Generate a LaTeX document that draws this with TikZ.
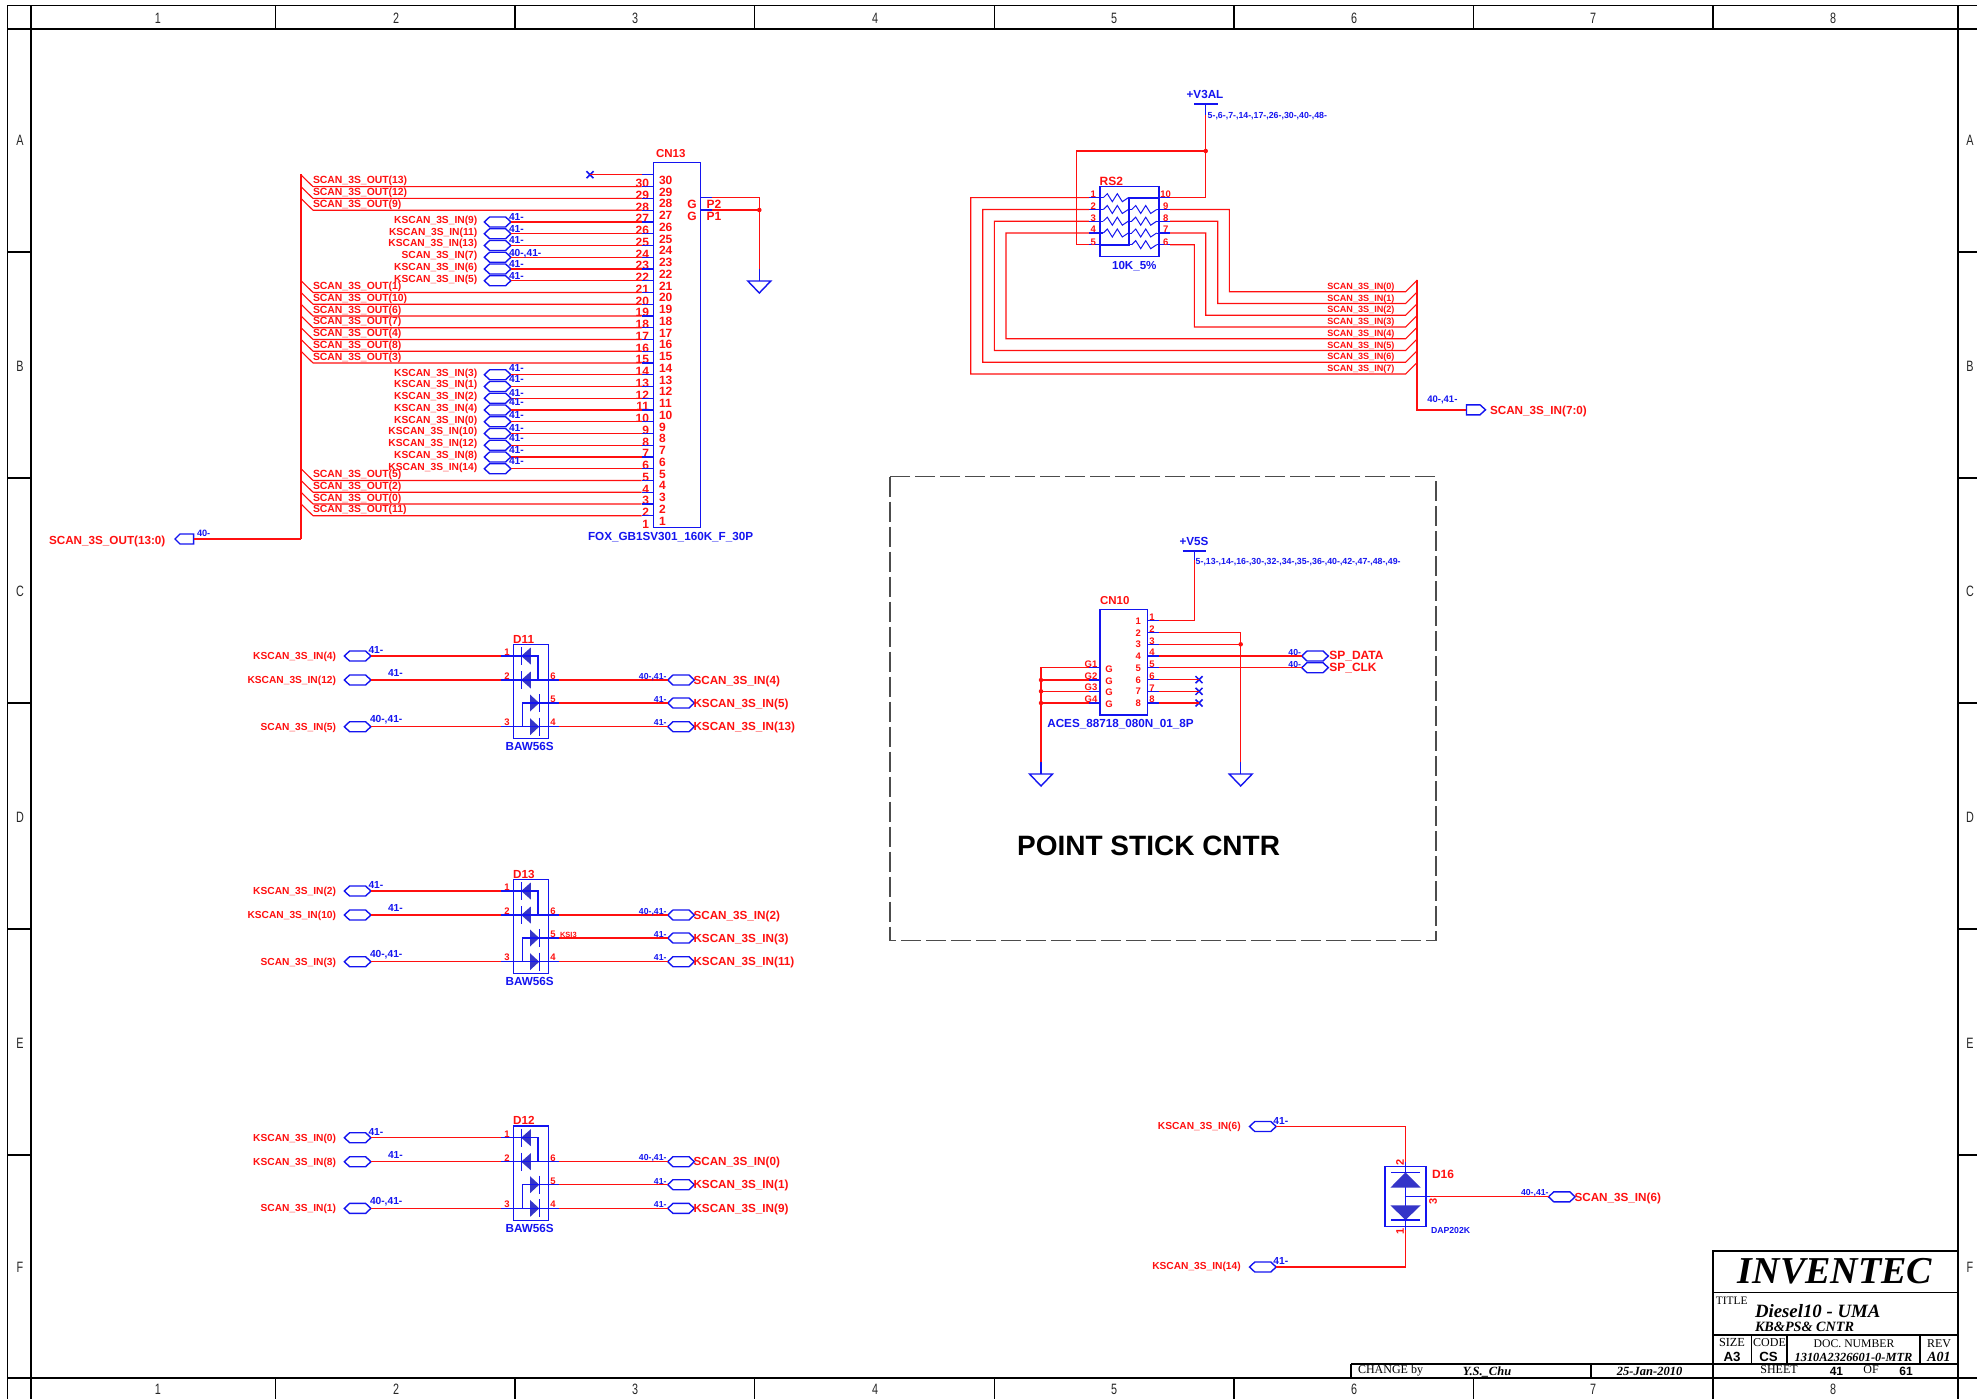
\documentclass[tikz,border=0pt]{standalone}
\usepackage{fontspec}
\setmainfont{Liberation Sans}
\newfontfamily\tms{Liberation Serif}
\definecolor{wred}{HTML}{FF1010}
\definecolor{pblue}{HTML}{1414F0}
\definecolor{dfill}{HTML}{3535C8}
\tikzset{
 txt/.style={font=\fontsize{#1}{#1}\selectfont\bfseries,text height=0.72*#1 pt,text depth=0pt,inner sep=0pt,outer sep=0pt},
 rt/.style={txt=#1,text=wred},
 bt/.style={txt=#1,text=pblue},
 sf/.style={font=\tms\fontsize{#1}{#1}\selectfont,text height=0.68*#1 pt,text depth=0pt,inner sep=0pt,outer sep=0pt,text=black},
 sbi/.style={font=\tms\bfseries\itshape\fontsize{#1}{#1}\selectfont,text height=0.68*#1 pt,text depth=0pt,inner sep=0pt,outer sep=0pt,text=black},
 kt/.style={txt=#1,text=black},
 thin frame/.style={font=\fontsize{15}{15}\selectfont,text height=11pt,text depth=0pt,inner sep=0pt,text=black!85},
 wire/.style={draw=wred,line width=1.1pt},
 bus/.style={draw=wred,line width=2pt},
 pin/.style={draw=pblue,line width=1.2pt},
 sym/.style={draw=pblue,line width=1.4pt},
 frm/.style={draw=black,line width=1.5pt},
 dot/.style={circle,fill=wred,inner sep=0pt,minimum size=4.5pt,draw=none}
}
\newcommand\hexport[3]{%
 \coordinate (#1-l) at (#2-13.3,#3);\coordinate (#1-r) at (#2+13.3,#3);
 \draw[sym] (#2-13.3,#3)--(#2-8,#3-5)--(#2+8,#3-5)--(#2+13.3,#3)--(#2+8,#3+5)--(#2-8,#3+5)--cycle;}
\newcommand\ncx[3]{%
 \coordinate (#1) at (#2,#3);
 \draw[draw=pblue,line width=1.5pt] (#2-3.5,#3-3.5)--(#2+3.5,#3+3.5) (#2-3.5,#3+3.5)--(#2+3.5,#3-3.5);}
\newcommand\gnd[3]{%
 \coordinate (#1) at (#2,#3);
 \draw[pin,line width=1.4pt] (#2,#3)--(#2,#3+12);
 \draw[sym] (#2-11.5,#3+12)--(#2+11.5,#3+12)--(#2,#3+24)--cycle;}
\newcommand\zig[2]{\draw[draw=pblue,line width=1pt] (#1,#2)--(#1+4,#2-4)--(#1+9,#2+4)--(#1+14,#2-4)--(#1+19,#2+4)--(#1+25,#2);}
\newcommand\dgroup[8]{%
\begin{scope}[shift={(0,#2)}]
 \node[rt=11.7,anchor=west] (#1ref) at (513.2,639) {#1};
 \node[bt=11.7] (#1val) at (529.7,746.5) {BAW56S};
 \draw[sym] (513.2,644.3) rectangle (548.4,738.7);
 \coordinate (#1p1) at (501,656);\coordinate (#1p2) at (501,680);\coordinate (#1p3) at (501,726.7);
 \coordinate (#1p6) at (559,680);\coordinate (#1p5) at (559,703);\coordinate (#1p4) at (559,726.7);
 \foreach \yy in {656,680}{
  \fill[dfill] (521.2,\yy)--(530.8,\yy-8.5)--(530.8,\yy+8.5)--cycle;
  \draw[pin] (521.2,\yy-9)--(521.2,\yy+9);}
 \foreach \yy in {703,726.7}{
  \fill[dfill] (539.2,\yy)--(530,\yy-8.5)--(530,\yy+8.5)--cycle;
  \draw[pin] (539.2,\yy-9)--(539.2,\yy+9);}
 \draw[pin] (#1p1)--(538,656)--(538,680);
 \draw[pin] (#1p2)--(#1p6);
 \draw[pin] (522.8,726.7)--(522.8,703)--(#1p5);
 \draw[pin] (#1p3)--(#1p4);
 \node[rt=9.5] (#1n1) at (507,652.3) {1};
 \node[rt=9.5] (#1n2) at (507,676.5) {2};
 \node[rt=9.5] (#1n3) at (507,722.5) {3};
 \node[rt=9.5] (#1n6) at (553,676) {6};
 \node[rt=9.5] (#1n5) at (553,699) {5};
 \node[rt=9.5] (#1n4) at (553,722.3) {4};
 \hexport{#1a}{357.6}{656}\hexport{#1b}{357.6}{680}\hexport{#1c}{357.6}{726.7}
 \hexport{#1d}{681}{680}\hexport{#1e}{681}{703}\hexport{#1f}{681}{726.7}
 \draw[wire] (#1a-r)--(#1p1);\draw[wire] (#1b-r)--(#1p2);\draw[wire] (#1c-r)--(#1p3);
 \draw[wire] (#1p6)--(#1d-l);\draw[wire] (#1p5)--(#1e-l);\draw[wire] (#1p4)--(#1f-l);
 \node[rt=10.2,anchor=east] (#1la) at (336,656) {#3};
 \node[rt=10.2,anchor=east] (#1lb) at (336,680) {#4};
 \node[rt=10.2,anchor=east] (#1lc) at (336,726.5) {#5};
 \node[rt=11.7,anchor=west] (#1ld) at (693.5,680) {#6};
 \node[rt=11.7,anchor=west] (#1le) at (693.5,703) {#7};
 \node[rt=11.7,anchor=west] (#1lf) at (693.5,726.7) {#8};
 \node[bt=10.2,anchor=west] (#1ba) at (368.5,650) {41-};
 \node[bt=10.2,anchor=west] (#1bb) at (388,673) {41-};
 \node[bt=10.2,anchor=west] (#1bc) at (370,719) {40-,41-};
 \node[bt=8.7,anchor=east] (#1bd) at (666.5,676) {40-,41-};
 \node[bt=8.7,anchor=east] (#1be) at (666.5,699.3) {41-};
 \node[bt=8.7,anchor=east] (#1bf) at (666.5,722.3) {41-};
\end{scope}}
\begin{document}
\begin{tikzpicture}[x=1pt,y=-1pt]
\useasboundingbox (0,0) rectangle (1977,1399);
\fill[white] (0,0) rectangle (1977,1399);
% ---- frame
\draw[frm] (7.5,1399)--(7.5,5.5)--(1958,5.5)--(1958,1399);
\draw[frm] (31,1399)--(31,5.5);
\draw[frm] (7.5,29)--(1977,29);
\draw[frm] (7.5,1378)--(1977,1378);
\draw[frm] (1958,5.5)--(1977,5.5);
\foreach \xx in {275.5,515,754.7,994.3,1233.9,1473.5,1713}{
 \draw[frm] (\xx,5.5)--(\xx,29);\draw[frm] (\xx,1378)--(\xx,1399);}
\foreach \yy in {252,478,703,929,1155}{
 \draw[frm] (7.5,\yy)--(31,\yy);\draw[frm] (1958,\yy)--(1977,\yy);}
\foreach \lb/\xx in {1/158,2/396,3/635,4/875,5/1114,6/1354,7/1593,8/1833}{
 \node[thin frame] (topn\lb) at (\xx,18) {\scalebox{.72}[1]{\lb}};
 \node[thin frame] (botn\lb) at (\xx,1389) {\scalebox{.72}[1]{\lb}};}
\foreach \lb/\yy in {A/140,B/366,C/591,D/817,E/1043,F/1267}{
 \node[thin frame] (lftn\lb) at (20,\yy) {\scalebox{.72}[1]{\lb}};
 \node[thin frame] (rgtn\lb) at (1970,\yy) {\scalebox{.72}[1]{\lb}};}
% ---- CN13
\draw[sym] (653.7,162.7) rectangle (700.3,527.5);
\node[rt=11.5,anchor=west] (cnref) at (656,153.2) {CN13};
\node[bt=11.7,anchor=west] (cnval) at (588,536.5) {FOX\_GB1SV301\_160K\_F\_30P};
\foreach \n in {1,...,30}{
 \pgfmathsetmacro\yy{186.7+(30-\n)*11.75}
 \pgfmathsetmacro\yi{180+(30-\n)*11.75}
 \pgfmathsetmacro\yl{\yy-3.5}
 \node[rt=12,anchor=east] (ol\n) at (649,\yl) {\n};
 \node[rt=12,anchor=west] (il\n) at (659,\yi) {\n};}
\coordinate (cntop) at (641.7,174.7);
\draw[pin] (cntop)--(653.7,174.7);
\ncx{cnx}{590}{174.7}
\draw[wire] (cnx)--(cntop);
\coordinate (bust) at (301,174.5);\coordinate (busb) at (301,539);
\draw[bus] (bust)--(busb);
\foreach \n/\l in {30/13,29/12,28/9,21/1,20/10,19/6,18/7,17/4,16/8,15/3,5/5,4/2,3/0,2/11}{
 \pgfmathsetmacro\yy{186.7+(30-\n)*11.75}
 \pgfmathsetmacro\ya{\yy-11.75}
 \pgfmathsetmacro\yt{\yy-6.5}
 \coordinate (pp\n) at (641.7,\yy);
 \coordinate (bb\n) at (313,\yy);
 \coordinate (bs\n) at (301,\ya);
 \draw[pin] (pp\n)--(653.7,\yy);
 \draw[wire] (bs\n)--(bb\n)--(pp\n);
 \node[rt=10.4,anchor=west] (sl\n) at (313,\yt) {SCAN\_3S\_OUT(\l)};}
\foreach \n/\l/\b/\o in {27/KSCAN\_3S\_IN(9)/41-/4.7,26/KSCAN\_3S\_IN(11)/41-/4.7,25/KSCAN\_3S\_IN(13)/41-/5.2,24/SCAN\_3S\_IN(7)/40-{,}41-/4.3,23/KSCAN\_3S\_IN(6)/41-/5,22/KSCAN\_3S\_IN(5)/41-/4.4,14/KSCAN\_3S\_IN(3)/41-/6.4,13/KSCAN\_3S\_IN(1)/41-/7.5,12/KSCAN\_3S\_IN(2)/41-/5.5,11/KSCAN\_3S\_IN(4)/41-/8,10/KSCAN\_3S\_IN(0)/41-/6.4,9/KSCAN\_3S\_IN(10)/41-/5.8,8/KSCAN\_3S\_IN(12)/41-/7.5,7/KSCAN\_3S\_IN(8)/41-/7.3,6/KSCAN\_3S\_IN(14)/41-/8}{
 \pgfmathsetmacro\yy{186.7+(30-\n)*11.75}
 \pgfmathsetmacro\yt{\yy-2.3}
 \pgfmathsetmacro\yb{\yy-\o}
 \coordinate (pp\n) at (641.7,\yy);
 \hexport{kp\n}{497.6}{\yy}
 \draw[pin] (pp\n)--(653.7,\yy);
 \draw[wire] (kp\n-r)--(pp\n);
 \node[rt=10.25,anchor=east] (kl\n) at (477.3,\yt) {\l};
 \node[bt=10.2,anchor=west] (kb\n) at (509,\yb) {\b};}
% P1 P2 ground
\node[rt=12] (g2) at (692,204.5) {G};
\node[rt=12] (g1) at (692,216) {G};
\node[rt=12,anchor=west] (pp2t) at (706.7,204.5) {P2};
\node[rt=12,anchor=west] (pp1t) at (706.7,216) {P1};
\coordinate (ps2) at (712,197.7);\coordinate (ps1) at (712,210);
\draw[pin] (700.3,197.7)--(ps2);\draw[pin] (700.3,210)--(ps1);
\gnd{gndA}{759.3}{269}
\coordinate (jA) at (759.3,210);
\draw[wire] (ps2)--(759.3,197.7)--(gndA);
\draw[wire] (ps1)--(jA);
\node[dot] (jdA) at (jA) {};
% bus port
\coordinate (ob) at (193.6,539);
\draw[sym] (175,539)--(180,534)--(193.6,534)--(193.6,544)--(180,544)--cycle;
\draw[bus] (ob)--(busb);
\node[rt=11.7,anchor=west] (oblab) at (49,540) {SCAN\_3S\_OUT(13:0)};
\node[bt=9.2,anchor=west] (obnum) at (197,532.7) {40-};
% ---- RS2
\draw[sym] (1100,186.7) rectangle (1159,256.7);
\node[rt=12,anchor=west] (rsref) at (1099.7,181) {RS2};
\node[bt=11.6] (rsval) at (1134.3,265.5) {10K\_5\%};
\foreach \i/\yy in {1/197.7,2/209.5,3/221.2,4/233}{
 \coordinate (rl\i) at (1089,\yy);
 \draw[pin] (rl\i)--(1103.3,\yy);
 \zig{1103.3}{\yy}
 \draw[draw=pblue,line width=1pt] (1128.3,\yy)--(1129.3,\yy);}
\coordinate (rl5) at (1089,244.7);
\draw[pin] (rl5)--(1100,244.7);
\draw[sym,line width=1.8pt] (1100,244.7)--(1129.3,244.7)--(1129.3,197.7)--(1159,197.7);
\foreach \i/\yy in {10/197.7,9/209.5,8/221.2,7/233,6/244.7}{
 \coordinate (rr\i) at (1170,\yy);
 \draw[pin] (1159,\yy)--(rr\i);}
\foreach \yy in {209.5,221.2,233,244.7}{
 \draw[draw=pblue,line width=1pt] (1129.3,\yy)--(1131.7,\yy);
 \zig{1131.7}{\yy}
 \draw[draw=pblue,line width=1pt] (1156.7,\yy)--(1159,\yy);}
\foreach \i/\yy in {1/194,2/206,3/217.7,4/229,5/242}{
 \node[rt=9.5] (rnl\i) at (1093.3,\yy) {\i};}
\foreach \i/\yy in {10/194,9/206,8/217.7,7/229,6/242}{
 \node[rt=9.5] (rnr\i) at (1165.7,\yy) {\i};}
% power V3AL
\coordinate (v3) at (1205.7,115);
\draw[sym,line width=2pt] (1194.3,104)--(1217.7,104);
\draw[pin,line width=1.4pt] (1205.7,104)--(v3);
\coordinate (jB) at (1205.7,151);
\draw[wire] (rr10)--(1205.7,197.7)--(v3);
\draw[wire] (jB)--(1076.7,151)--(1076.7,244.7)--(rl5);
\node[dot] (jdB) at (jB) {};
\node[bt=11.7] (v3t) at (1205,94.3) {+V3AL};
\node[bt=8.8,anchor=west] (v3n) at (1207.7,115) {5-,6-,7-,14-,17-,26-,30-,40-,48-};
% bus right
\coordinate (rbt) at (1417.3,280.3);\coordinate (rbb) at (1417.3,409.8);\coordinate (rbp) at (1466.5,409.8);
\draw[bus] (rbt)--(rbb)--(rbp);
\foreach \i/\yy/\xx/\pinn in {0/291.7/1229.3/rr9,1/303.5/1217.7/rr8,2/315.2/1205.7/rr7,3/327/1194.3/rr6,4/338.7/1006/rl4,5/350.5/994.3/rl3,6/362.2/982.7/rl2,7/374/970.7/rl1}{
 \pgfmathsetmacro\ya{\yy-11.75}
 \pgfmathsetmacro\yt{\yy-5.7}
 \coordinate (re\i) at (1405.7,\yy);
 \coordinate (rs\i) at (1417.3,\ya);
 \draw[wire] (\pinn)-|(\xx,\yy)--(re\i)--(rs\i);
 \node[rt=9.1,anchor=east] (rl\i t) at (1394.5,\yt) {SCAN\_3S\_IN(\i)};}
\draw[sym] (1466.5,404.8)--(1480,404.8)--(1485.5,409.8)--(1480,414.8)--(1466.5,414.8)--cycle;
\node[rt=11.7,anchor=west] (rblab) at (1490,410) {SCAN\_3S\_IN(7:0)};
\node[bt=9.5,anchor=west] (rbnum) at (1427.3,399) {40-,41-};
% ---- dashed box and CN10
\draw[draw=black!70,line width=1.4pt,dash pattern=on 20pt off 5pt] (890,476.6) rectangle (1436,940.6);
\node[kt=28] (pstk) at (1148.6,845.5) {POINT STICK CNTR};
\draw[sym] (1100,609.3) rectangle (1147.3,715);
\node[rt=11.5,anchor=west] (c10ref) at (1100,600) {CN10};
\node[bt=11.7,anchor=west] (c10val) at (1047.3,723.3) {ACES\_88718\_080N\_01\_8P};
\foreach \i/\yy in {1/620.7,2/632.7,3/644.3,4/656,5/667.7,6/679.7,7/691.3,8/703}{
 \pgfmathsetmacro\yl{\yy-3.5}
 \coordinate (cr\i) at (1159,\yy);
 \draw[pin] (1147.3,\yy)--(cr\i);
 \node[rt=9.5] (cro\i) at (1152,\yl) {\i};
 \node[rt=9.5] (cri\i) at (1138.3,\yy) {\i};}
\foreach \i/\yy in {1/667.7,2/680,3/691.3,4/703}{
 \pgfmathsetmacro\yl{\yy-4}
 \pgfmathsetmacro\yg{\yy+1}
 \coordinate (cl\i) at (1089.3,\yy);
 \draw[pin] (1100,\yy)--(cl\i);
 \node[rt=9.5] (clo\i) at (1091,\yl) {G\i};
 \node[rt=9.5] (cli\i) at (1109,\yg) {G};}
\coordinate (v5) at (1194.3,560);
\draw[sym,line width=2pt] (1182.7,551)--(1205.7,551);
\draw[pin,line width=1.4pt] (1194.3,551)--(v5);
\draw[wire] (cr1)--(1194.3,620.7)--(v5);
\node[bt=11.7] (v5t) at (1194,541.3) {+V5S};
\node[bt=8.8,anchor=west] (v5n) at (1195.7,561) {5-,13-,14-,16-,30-,32-,34-,35-,36-,40-,42-,47-,48-,49-};
\gnd{gndB}{1240.7}{762}
\gnd{gndC}{1041}{762}
\coordinate (jC) at (1240.7,644.3);
\draw[wire] (cr2)--(1240.7,632.7)--(gndB);
\draw[wire] (cr3)--(jC);
\node[dot] (jdC) at (jC) {};
\draw[wire] (cl1)--(1041,667.7)--(gndC);
\foreach \i/\yy in {2/680,3/691.3,4/703}{
 \coordinate (jg\i) at (1041,\yy);
 \draw[wire] (cl\i)--(jg\i);
 \node[dot] (jdg\i) at (jg\i) {};}
\hexport{spd}{1315}{656}\hexport{spc}{1315}{667.7}
\draw[wire] (cr4)--(spd-l);\draw[wire] (cr5)--(spc-l);
\node[rt=12,anchor=west] (spdt) at (1329.3,655.5) {SP\_DATA};
\node[rt=12,anchor=west] (spct) at (1329.3,667.5) {SP\_CLK};
\node[bt=8.7,anchor=east] (spdn) at (1301,652.3) {40-};
\node[bt=8.7,anchor=east] (spcn) at (1301,664) {40-};
\foreach \i/\yy in {6/679.7,7/691.3,8/703}{
 \ncx{cx\i}{1199}{\yy}
 \draw[wire] (cr\i)--(cx\i);}
% ---- diode groups
\dgroup{D11}{0}{KSCAN\_3S\_IN(4)}{KSCAN\_3S\_IN(12)}{SCAN\_3S\_IN(5)}{SCAN\_3S\_IN(4)}{KSCAN\_3S\_IN(5)}{KSCAN\_3S\_IN(13)}
\dgroup{D13}{235}{KSCAN\_3S\_IN(2)}{KSCAN\_3S\_IN(10)}{SCAN\_3S\_IN(3)}{SCAN\_3S\_IN(2)}{KSCAN\_3S\_IN(3)}{KSCAN\_3S\_IN(11)}
\dgroup{D12}{481.7}{KSCAN\_3S\_IN(0)}{KSCAN\_3S\_IN(8)}{SCAN\_3S\_IN(1)}{SCAN\_3S\_IN(0)}{KSCAN\_3S\_IN(1)}{KSCAN\_3S\_IN(9)}
\node[rt=7.5,anchor=west] (ksi3) at (560,934.7) {KSI3};
% ---- D16
\draw[sym] (1385,1166.7) rectangle (1426,1226.7);
\coordinate (d2) at (1405.5,1161.7);\coordinate (d1) at (1405.5,1230);\coordinate (d3) at (1430.3,1196.3);
\draw[pin] (d2)--(d1);
\draw[pin] (1405.5,1196.3)--(d3);
\fill[dfill] (1405.5,1172.3)--(1420.7,1187.7)--(1390.3,1187.7)--cycle;
\fill[dfill] (1405.5,1220)--(1420.7,1205.3)--(1390.3,1205.3)--cycle;
\draw[pin] (1391,1172.3)--(1420,1172.3);
\draw[pin] (1391,1220)--(1420,1220);
\hexport{d16a}{1262.8}{1126.5}\hexport{d16b}{1262.8}{1267}\hexport{d16c}{1561.8}{1196.8}
\draw[wire] (d16a-r)--(1405.5,1126.5)--(d2);
\draw[wire] (d16b-r)--(1405.5,1267)--(d1);
\draw[wire] (d3)--(1430.3,1196.8)--(d16c-l);
\node[rt=11,rotate=90] (d16n2) at (1400,1162.3) {2};
\node[rt=11,rotate=90] (d16n1) at (1400,1231) {1};
\node[rt=11,rotate=90] (d16n3) at (1432.8,1201.7) {3};
\node[rt=12,anchor=west] (d16r) at (1432,1174) {D16};
\node[bt=8.7,anchor=west] (d16v) at (1431,1230.7) {DAP202K};
\node[rt=10.2,anchor=east] (d16la) at (1240.7,1125.5) {KSCAN\_3S\_IN(6)};
\node[rt=10.2,anchor=east] (d16lb) at (1240.7,1265.5) {KSCAN\_3S\_IN(14)};
\node[rt=11.7,anchor=west] (d16lc) at (1574.5,1197) {SCAN\_3S\_IN(6)};
\node[bt=10.2,anchor=west] (d16na) at (1273.4,1120.5) {41-};
\node[bt=10.2,anchor=west] (d16nb) at (1273.4,1260.5) {41-};
\node[bt=8.7,anchor=east] (d16nc) at (1548.6,1192.5) {40-,41-};
% ---- title block
\draw[frm] (1713,1378)--(1713,1251)--(1958,1251);
\draw[frm] (1713,1292.7)--(1958,1292.7);
\draw[frm] (1713,1335)--(1958,1335);
\draw[frm] (1351,1364)--(1958,1364);
\draw[frm] (1751.5,1335)--(1751.5,1364);
\draw[frm] (1787,1335)--(1787,1364);
\draw[frm] (1920,1335)--(1920,1364);
\draw[frm] (1351,1364)--(1351,1378);
\draw[frm] (1591,1364)--(1591,1378);
\node[sbi=38] (inv) at (1835,1271) {INVENTEC};
\node[sf=11.4,anchor=west] (ttl) at (1715.8,1301) {TITLE};
\node[sbi=18.8,anchor=west] (tt1) at (1755,1311) {Diesel10 - UMA};
\node[sbi=14.2,anchor=west] (tt2) at (1755,1327) {KB\&PS\& CNTR};
\node[sf=12.3] (szt) at (1732,1342.3) {SIZE};
\node[kt=13.3] (szv) at (1732,1357) {A3};
\node[sf=12] (cdt) at (1769.5,1342.3) {CODE};
\node[kt=13.3] (cdv) at (1768.5,1357) {CS};
\node[sf=11.7] (dct) at (1854,1343.3) {DOC. NUMBER};
\node[sbi=12.4] (dcv) at (1853.5,1357.3) {1310A2326601-0-MTR};
\node[sf=12] (rvt) at (1939,1343.7) {REV};
\node[sbi=14] (rvv) at (1939,1357) {A01};
\node[sf=12] (sht) at (1779,1369.7) {SHEET};
\node[kt=12] (shv) at (1836.4,1371.3) {41};
\node[sf=12] (oft) at (1871,1369.3) {OF};
\node[kt=12] (ofv) at (1906,1371.3) {61};
\node[sf=12,anchor=west] (chg) at (1358,1369.7) {CHANGE by};
\node[sbi=12.5] (chn) at (1487,1371.7) {Y.S.\_Chu};
\node[sbi=12.5] (chd) at (1649.6,1371.7) {25-Jan-2010};
\end{tikzpicture}
\end{document}
